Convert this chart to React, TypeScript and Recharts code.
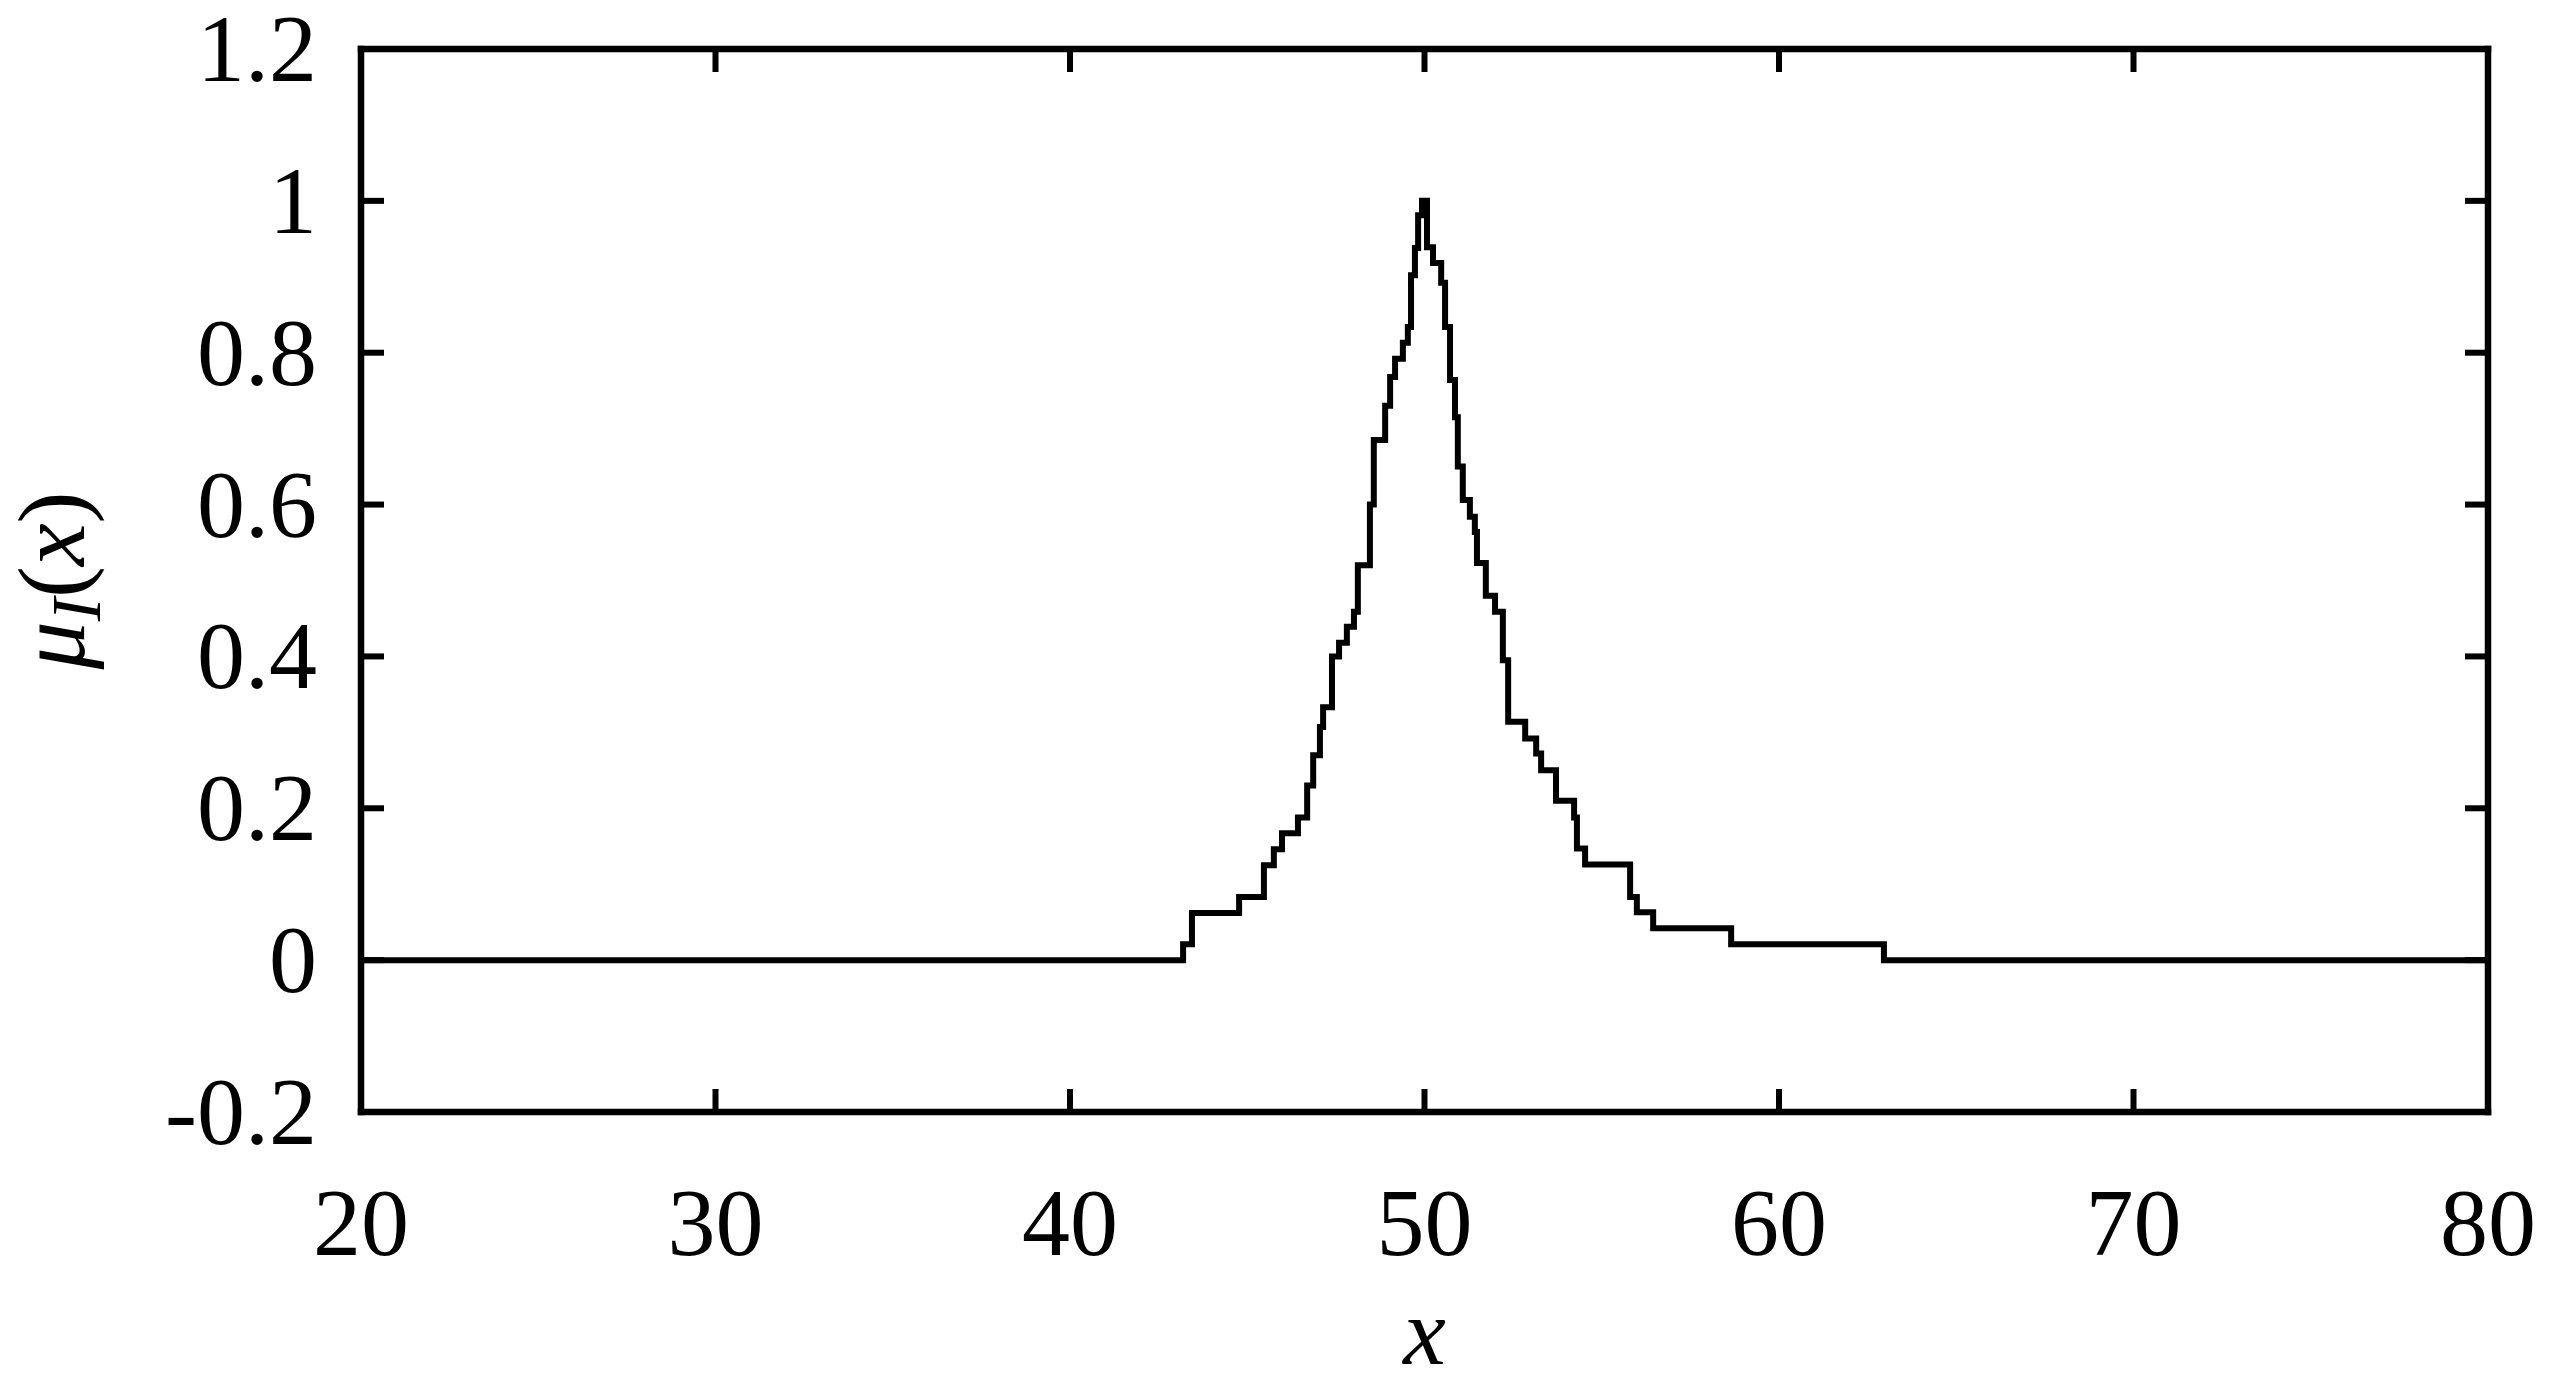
import { Line, LineChart, XAxis, YAxis } from "recharts";

document.body.style.margin = "0";

// step curve: value holds from each x until the next x
const xs = [
  20, 43.19, 43.44, 44.77, 45.47, 45.75, 45.98, 46.43, 46.69, 46.86, 47.05, 47.14, 47.39, 47.59,
  47.81, 48.01, 48.12, 48.46, 48.57, 48.89, 49.03, 49.17, 49.39, 49.53, 49.62, 49.73, 49.82, 49.93,
  50.07, 50.24, 50.47, 50.58, 50.72, 50.86, 50.94, 51.08, 51.28, 51.42, 51.48, 51.73, 51.99, 52.21,
  52.36, 52.84, 53.15, 53.29, 53.71, 54.22, 54.3, 54.53, 55.8, 55.99, 56.45, 58.65, 62.96, 80,
];
const mu = [
  0, 0.021, 0.062, 0.083, 0.125, 0.146, 0.167, 0.188, 0.23, 0.27, 0.307, 0.333, 0.4, 0.418,
  0.439, 0.459, 0.52, 0.6, 0.685, 0.73, 0.768, 0.792, 0.813, 0.834, 0.902, 0.938, 0.981, 1.0,
  0.939, 0.918, 0.892, 0.834, 0.764, 0.715, 0.65, 0.606, 0.584, 0.564, 0.523, 0.48, 0.459, 0.395,
  0.314, 0.292, 0.272, 0.25, 0.21, 0.188, 0.147, 0.126, 0.083, 0.063, 0.042, 0.021, 0, 0,
];

const xTicks = [20, 30, 40, 50, 60, 70, 80];
const yTicks = [-0.2, 0, 0.2, 0.4, 0.6, 0.8, 1, 1.2];

const data = xs.map((x, i) => ({ x, mu: mu[i] }));

const FONT = "'Liberation Serif', 'Times New Roman', Times, serif";
const FS = 96;
const axisStyle = { stroke: "#000", strokeWidth: 6.5, strokeLinecap: "square" as const };
const tickStyle = { stroke: "#000", strokeWidth: 6 };

function XTick({ x, y, payload }: any) {
  return (
    <text x={x} y={y} textAnchor="middle" fontFamily={FONT} fontSize={FS} fill="#000">
      {String(payload.value)}
    </text>
  );
}

function YTick({ x, y, payload }: any) {
  return (
    <text x={x} y={y + 32} textAnchor="end" fontFamily={FONT} fontSize={FS} fill="#000">
      {String(payload.value)}
    </text>
  );
}

function NoTick() {
  return <g />;
}

function XLabel({ viewBox }: any) {
  const cx = viewBox.x + viewBox.width / 2;
  return (
    <text x={cx} y={viewBox.y + 252} textAnchor="middle" fontFamily={FONT} fontSize={FS} fontStyle="italic" fill="#000">
      x
    </text>
  );
}

function YLabel({ viewBox }: any) {
  const bx = viewBox.x + 84;
  const cy = viewBox.y + viewBox.height / 2;
  return (
    <text
      x={bx}
      y={cy}
      transform={`rotate(-90, ${bx}, ${cy})`}
      textAnchor="middle"
      fontFamily={FONT}
      fontSize={FS}
      fill="#000"
    >
      <tspan fontStyle="italic">μ</tspan>
      <tspan fontStyle="italic" fontSize={70} dy={16}>I</tspan>
      <tspan dy={-16}>(</tspan>
      <tspan fontStyle="italic">x</tspan>
      <tspan>)</tspan>
    </text>
  );
}

export default function App() {
  return (
    <div style={{ width: 2549, height: 1382, background: "#fff", overflow: "hidden" }}>
      <LineChart width={2549} height={1382} data={data} margin={{ top: 48, right: 60, bottom: 0, left: 0 }}>
        <XAxis
          dataKey="x"
          type="number"
          domain={[20, 80]}
          ticks={xTicks}
          height={270}
          axisLine={axisStyle}
          tickLine={tickStyle}
          tickSize={-23}
          tickMargin={166}
          tick={<XTick />}
          label={<XLabel />}
        />
        <XAxis
          xAxisId="top"
          dataKey="x"
          type="number"
          orientation="top"
          domain={[20, 80]}
          ticks={xTicks}
          height={1}
          axisLine={axisStyle}
          tickLine={tickStyle}
          tickSize={-23}
          tick={<NoTick />}
        />
        <YAxis
          type="number"
          domain={[-0.2, 1.2]}
          ticks={yTicks}
          width={361}
          axisLine={axisStyle}
          tickLine={tickStyle}
          tickSize={-23}
          tickMargin={67}
          tick={<YTick />}
          label={<YLabel />}
        />
        <YAxis
          yAxisId="right"
          type="number"
          orientation="right"
          domain={[-0.2, 1.2]}
          ticks={yTicks}
          width={1}
          axisLine={axisStyle}
          tickLine={tickStyle}
          tickSize={-23}
          tick={<NoTick />}
        />
        <Line
          type="stepAfter"
          dataKey="mu"
          stroke="#000"
          strokeWidth={6}
          dot={false}
          isAnimationActive={false}
        />
        <Line
          xAxisId="top"
          yAxisId="right"
          type="stepAfter"
          dataKey="mu"
          stroke="none"
          strokeWidth={0}
          dot={false}
          activeDot={false}
          isAnimationActive={false}
        />
      </LineChart>
    </div>
  );
}
